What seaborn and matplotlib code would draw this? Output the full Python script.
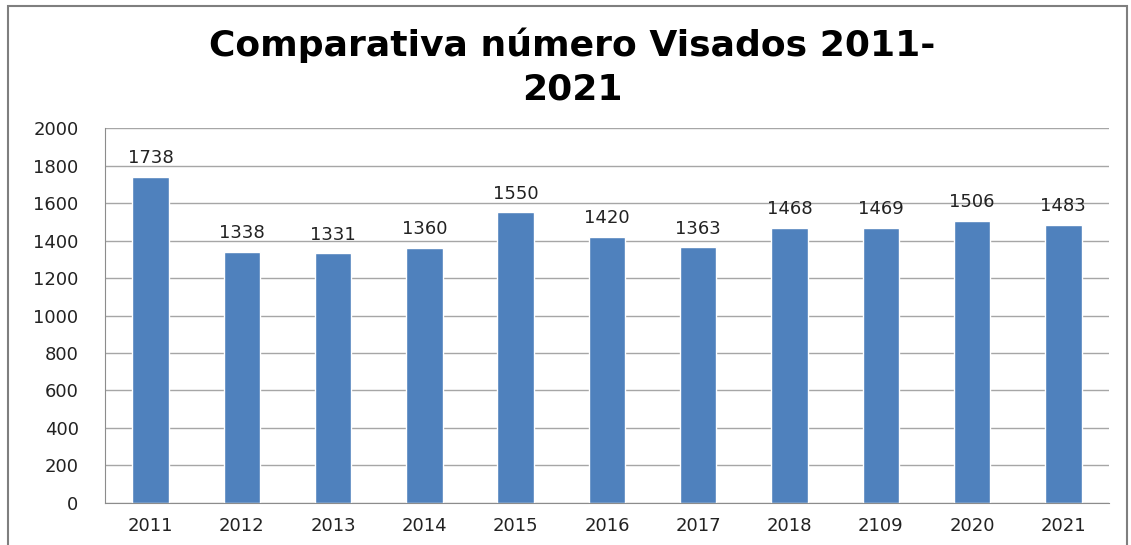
import matplotlib
matplotlib.use("Agg")
import matplotlib.pyplot as plt
import seaborn as sns
import pandas as pd
from matplotlib.patches import Rectangle

# datos
years = ['2011', '2012', '2013', '2014', '2015', '2016', '2017', '2018', '2109', '2020', '2021']
visados = [1738, 1338, 1331, 1360, 1550, 1420, 1363, 1468, 1469, 1506, 1483]

data = pd.DataFrame({'year': years, 'visados': visados})

sns.set_style('white')
plt.rcParams['font.family'] = ['DejaVu Sans']

fig = plt.figure(figsize=(11.31, 5.45), dpi=100)
ax = fig.add_axes([0.0928, 0.0771, 0.8877, 0.688])

sns.barplot(data=data, x='year', y='visados', color='#4F81BD', width=0.4,
            saturation=1, ax=ax)

ax.bar_label(ax.containers[0], fontsize=13, padding=7, color='#222222')

ax.set_ylim(0, 2000)
ax.set_yticks(range(0, 2001, 200))
ax.set_xlim(-0.5, len(years) - 0.5)
ax.grid(axis='y', color='#a6a6a6', linewidth=1)
ax.set_axisbelow(True)
ax.set_xlabel('')
ax.set_ylabel('')

for s in ['top', 'right']:
    ax.spines[s].set_visible(False)
for s in ['left', 'bottom']:
    ax.spines[s].set_color('#8c8c8c')

ax.tick_params(axis='y', length=8, color='#8c8c8c', labelsize=13, labelcolor='#222222', pad=11)
ax.tick_params(axis='x', length=0, labelsize=13, labelcolor='#222222', pad=10)
ax.set_xticks([i - 0.5 for i in range(len(years) + 1)], minor=True)
ax.tick_params(axis='x', which='minor', length=7, color='#8c8c8c')

fig.text(0.506, 0.877, 'Comparativa número Visados 2011-\n2021', ha='center', va='center',
         fontsize=26, fontweight='bold', linespacing=1.32, color='black')

# marco del gráfico
fig.patches.append(Rectangle((8 / 1131, -0.05), 1119 / 1131, 1 - 6 / 545 + 0.05,
                             transform=fig.transFigure, fill=False,
                             edgecolor='#7f7f7f', linewidth=1.5))

fig.savefig('out.png', dpi=100)
